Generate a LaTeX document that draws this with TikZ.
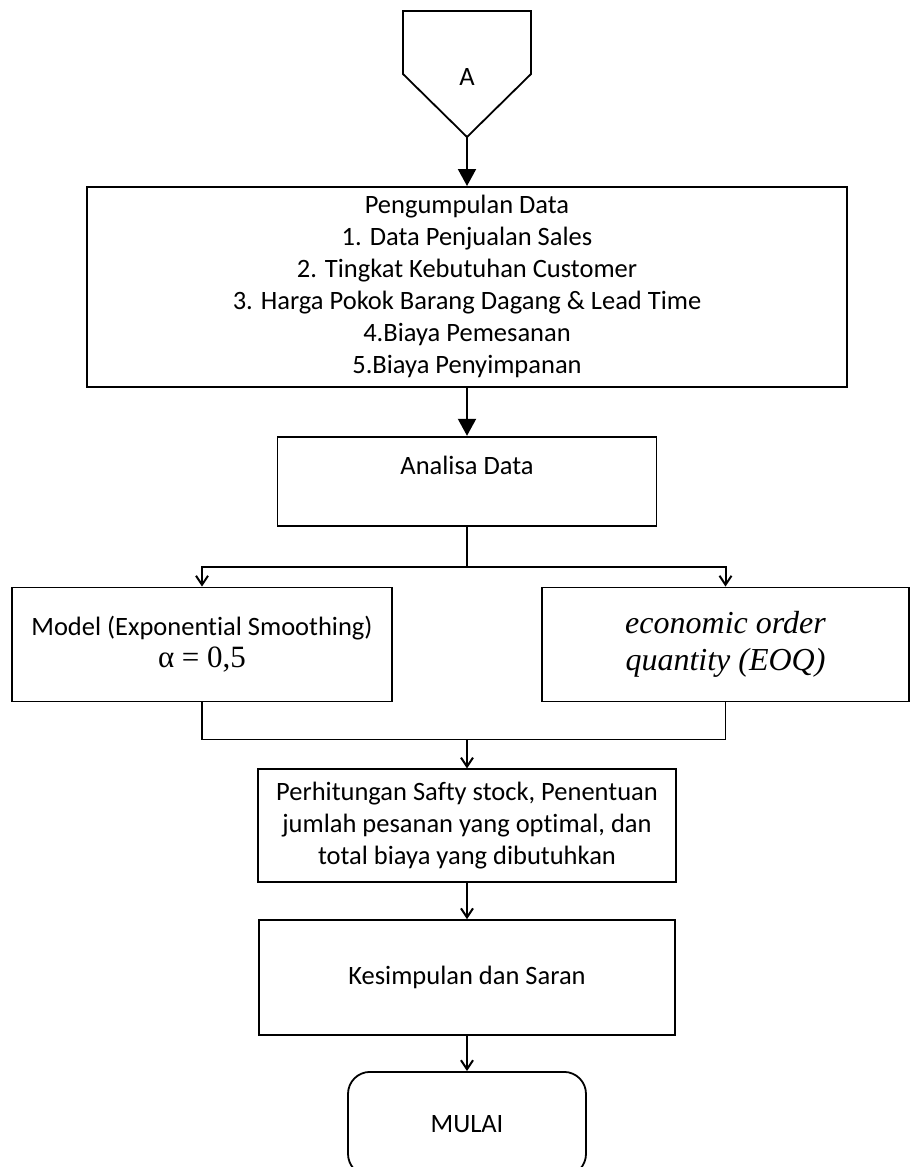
\documentclass[tikz,border=0pt]{standalone}
\usepackage{fontspec}
\setmainfont{Carlito}[Ligatures=NoCommon]
\newfontfamily\timesfont{Liberation Serif}
\usetikzlibrary{positioning,arrows.meta}
\tikzset{
  procbox/.style={draw=black, line width=1.8pt, align=center, inner sep=0pt, font=\fontsize{26.5}{32}\selectfont},
  termbox/.style={procbox, rounded corners=22pt},
  link/.style={line width=1.8pt},
  arr/.style={-{Triangle[length=17pt,width=18pt]}, line width=2pt},
  thinarr/.style={-{Straight Barb[length=9pt,width=12pt]}, line width=2pt},
}

\begin{document}
\begin{tikzpicture}
    \useasboundingbox (0,0) rectangle (912pt,-1167pt);
    % off-page connector
    \coordinate (atip) at (467pt,-137pt);
    \draw[link] (403pt,-11pt) -- (531pt,-11pt) -- (531pt,-74pt) -- (atip) -- (403pt,-74pt) -- cycle;
    \node[font=\fontsize{26.5}{32}\selectfont] (offA) at (467pt,-77pt) {A};
    % main column
    \node[procbox, minimum width=760pt, minimum height=200pt, below=49pt of atip] (data)
      {Pengumpulan Data\\1. Data Penjualan Sales\\2. Tingkat Kebutuhan Customer\\3. Harga Pokok Barang Dagang \& Lead Time\\4.Biaya Pemesanan\\5.Biaya Penyimpanan};
    \node[procbox, minimum width=379pt, minimum height=89pt, below=48pt of data] (analisa) {Analisa Data\\ \mbox{}};
    \node[procbox, minimum width=380pt, minimum height=114pt, below=60pt of analisa, xshift=-265pt] (model)
      {Model (Exponential Smoothing)\\{\timesfont\fontsize{31}{35}\selectfont α = 0,5}};
    \node[procbox, minimum width=367pt, minimum height=114pt, below=60pt of analisa, xshift=258.5pt,
          font=\timesfont\itshape\fontsize{32}{37}\selectfont] (eoq) {economic order\\quantity (EOQ)};
    \draw[arr] (atip) -- (data);
    \draw[arr] (data) -- (analisa);
    % split and join
    \coordinate[below=40pt of analisa] (split);
    \draw[link] (analisa) -- (split);
    \draw[thinarr] (split) -| (model.north);
    \draw[thinarr] (split) -| (eoq.north);
    \path (model.south -| analisa.south) ++(0,-37pt) coordinate (join);
    \draw[link] (model.south) |- (join) -| (eoq.south);
    \node[procbox, minimum width=418pt, minimum height=113pt, below=29pt of join] (calc)
      {Perhitungan Safty stock, Penentuan\\jumlah pesanan yang optimal, dan\\total biaya yang dibutuhkan};
    \node[procbox, minimum width=416pt, minimum height=115pt, below=36pt of calc] (kes) {Kesimpulan dan Saran};
    \node[termbox, minimum width=238pt, minimum height=104pt, below=35pt of kes] (mulai) {MULAI};
    \draw[thinarr] (join) -- (calc);
    \draw[thinarr] (calc) -- (kes);
    \draw[thinarr] (kes) -- (mulai);
\end{tikzpicture}
\end{document}
